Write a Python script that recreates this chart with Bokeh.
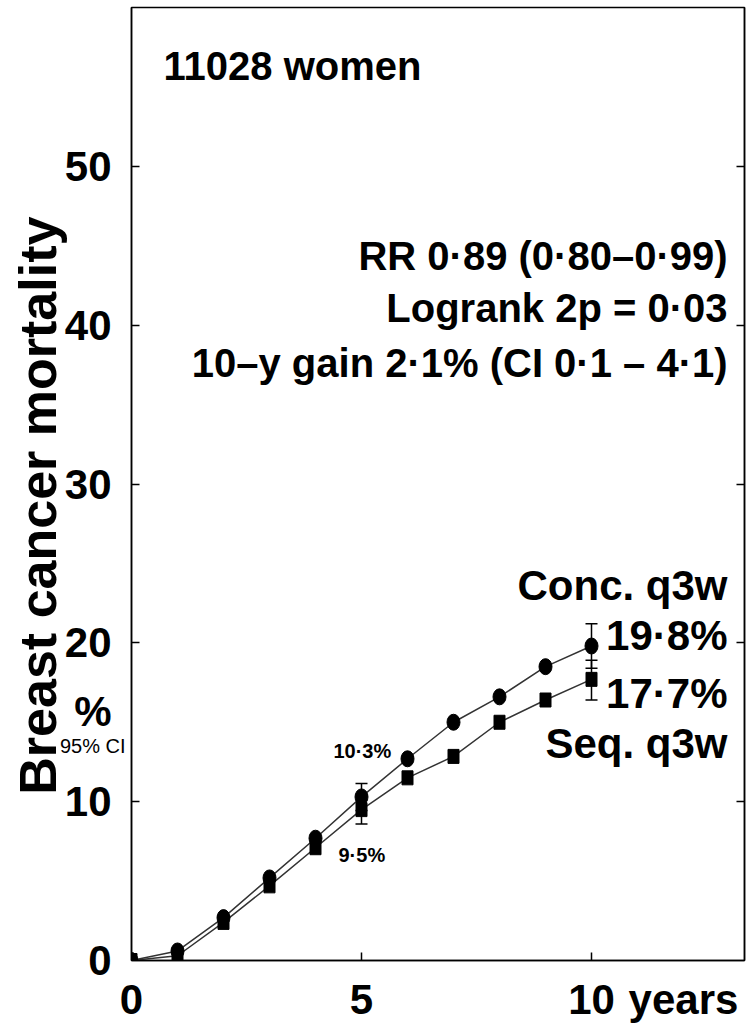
from bokeh.plotting import figure
from bokeh.models import (Range1d, FixedTicker, LinearAxis, Label, Whisker,
                          TeeHead, ColumnDataSource)
from bokeh.embed import file_html
from bokeh.resources import INLINE

# ---- data ----
years = [0, 1, 2, 3, 4, 5, 6, 7, 8, 9, 10]
conc = [0, 0.6, 2.7, 5.2, 7.7, 10.3, 12.7, 15.0, 16.6, 18.5, 19.8]
seq = [0, 0.3, 2.4, 4.7, 7.1, 9.5, 11.5, 12.85, 15.0, 16.4, 17.7]
ci_years = [5, 10]
conc_lo = [9.45, 18.4]
conc_hi = [11.15, 21.2]
seq_lo = [8.6, 16.4]
seq_hi = [10.4, 18.9]
x_ticks = [0, 5, 10]
y_ticks = [0, 10, 20, 30, 40, 50]
x_unit_pos, x_unit_text = 12.0, "years"
y_unit_pos, y_unit_text = 15.7, "%"
ci_note_pos, ci_note_text = 13.5, "95% CI"

FONT = "Liberation Sans"
NB = "\u00a0"

p = figure(width=753, height=1029, x_range=Range1d(0, 13.326), y_range=Range1d(0, 60),
           output_backend="svg", toolbar_location=None,
           min_border_left=131, min_border_right=9, min_border_top=7, min_border_bottom=69)
p.grid.visible = False
p.outline_line_color = "black"
p.outline_line_width = 1.5
p.background_fill_color = "white"
p.border_fill_color = "white"

xax = p.xaxis[0]
xax.ticker = FixedTicker(ticks=x_ticks + [x_unit_pos], minor_ticks=x_ticks[1:])
xax.major_label_overrides = {x_unit_pos: x_unit_text}
yax = p.yaxis[0]
yax.ticker = FixedTicker(ticks=y_ticks + [y_unit_pos], minor_ticks=y_ticks[1:])
yax.major_label_overrides = {y_unit_pos: y_unit_text}
for ax in (xax, yax):
    ax.major_tick_line_color = None
    ax.minor_tick_in = 8
    ax.minor_tick_out = 0
    ax.minor_tick_line_width = 1.5
    ax.minor_tick_line_color = "black"
    ax.axis_line_width = 1.5
    ax.major_label_text_font = FONT
    ax.major_label_text_font_style = "bold"
    ax.major_label_text_font_size = "42px"
    ax.major_label_text_color = "black"
xax.major_label_standoff = 9
yax.major_label_standoff = 14

# outer left axis: carries the small "95% CI" note and the rotated title
outer = LinearAxis(ticker=FixedTicker(ticks=[ci_note_pos]),
                   major_label_overrides={ci_note_pos: ci_note_text},
                   axis_line_color=None, major_tick_line_color=None,
                   minor_tick_line_color=None, major_tick_in=0, major_tick_out=0,
                   major_label_standoff=-64,
                   major_label_text_font=FONT, major_label_text_font_size="20px",
                   major_label_text_color="black",
                   axis_label="Breast cancer mortality" + NB * 3,
                   axis_label_standoff=-10, axis_label_text_font=FONT,
                   axis_label_text_font_style="bold", axis_label_text_font_size="52px",
                   axis_label_text_color="black")
p.add_layout(outer, "left")

right_ticks = y_ticks[1:]
right = LinearAxis(ticker=FixedTicker(ticks=right_ticks), major_tick_in=8,
                   major_tick_out=0, major_label_standoff=0, minor_tick_line_color=None,
                   major_label_overrides={t: "" for t in right_ticks},
                   axis_line_width=1.5, major_tick_line_width=1.5)
p.add_layout(right, "right")

src = ColumnDataSource(dict(x=years, conc=conc, seq=seq))
p.line("x", "conc", source=src, line_color="#333333", line_width=1.5)
p.line("x", "seq", source=src, line_color="#333333", line_width=1.5)

ci = ColumnDataSource(dict(x=ci_years, clo=conc_lo, chi=conc_hi, slo=seq_lo, shi=seq_hi))
for lo, hi in (("clo", "chi"), ("slo", "shi")):
    w = Whisker(base="x", lower=lo, upper=hi, source=ci, line_color="black", line_width=1.5,
                upper_head=TeeHead(size=12, line_width=1.5, line_color="black"),
                lower_head=TeeHead(size=12, line_width=1.5, line_color="black"))
    p.add_layout(w)

p.ellipse("x", "conc", source=src, width=13, height=16, width_units="screen",
          height_units="screen", fill_color="black", line_color="black")
p.rect("x", "seq", source=src, width=11, height=14, width_units="screen",
       height_units="screen", fill_color="black", line_color="black")


def lab(x, y, text, size, align="left", style="bold"):
    p.add_layout(Label(x=x, y=y, text=text, text_font=FONT, text_font_style=style,
                       text_font_size=size, text_align=align, text_baseline="alphabetic",
                       text_color="black"))


lab(0.696, 56.33, "11028 women", "40px")
lab(12.957, 44.36, "RR 0·89 (0·80–0·99)", "40px", align="right")
lab(12.957, 41.09, "Logrank 2p = 0·03", "40px", align="right")
lab(12.957, 37.62, "10–y gain 2·1% (CI 0·1 – 4·1)", "40px", align="right")
lab(12.957, 23.62, "Conc. q3w", "42px", align="right")
lab(12.957, 20.47, "19·8%", "42px", align="right")
lab(12.957, 16.82, "17·7%", "42px", align="right")
lab(12.957, 13.67, "Seq. q3w", "42px", align="right")
lab(4.39, 13.17, "10·3%", "20px")
lab(4.5, 6.62, "9·5%", "20px")

open("out.html", "w").write(file_html(p, INLINE))
